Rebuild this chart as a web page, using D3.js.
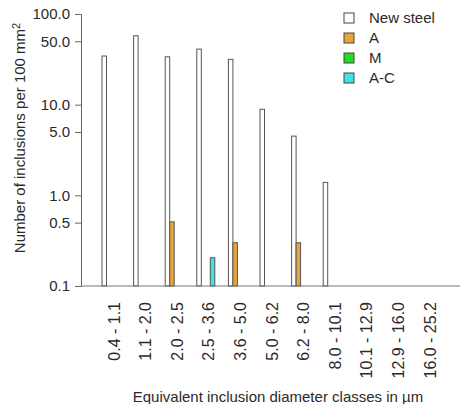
<!DOCTYPE html>
<html>
<head>
<meta charset="utf-8">
<script src="https://cdn.jsdelivr.net/npm/d3@7"></script>
<style>
  body { margin: 0; background: #fff; }
  text { font-family: "Liberation Sans", Arial, sans-serif; fill: #2a2a2a; }
</style>
</head>
<body>
<svg id="chart" width="460" height="404"></svg>
<script>
const categories = ["0.4 - 1.1", "1.1 - 2.0", "2.0 - 2.5", "2.5 - 3.6", "3.6 - 5.0", "5.0 - 6.2",
                    "6.2 - 8.0", "8.0 - 10.1", "10.1 - 12.9", "12.9 - 16.0", "16.0 - 25.2"];
const seriesNames = ["New steel", "A", "M", "A-C"];
const newSteel = [34.4, 57.5, 33.7, 41.0, 31.6, 8.9, 4.5, 1.39, 0, 0, 0];
const seriesA  = [0, 0, 0.51, 0, 0.30, 0, 0.30, 0, 0, 0, 0];
const seriesM  = [0, 0, 0, 0, 0, 0, 0, 0, 0, 0, 0];
const seriesAC = [0, 0, 0, 0.205, 0, 0, 0, 0, 0, 0, 0];
const yTicks = [0.1, 0.5, 1, 5, 10, 50, 100];
const colors = ["#ffffff", "#e8a33a", "#22dd22", "#3fe3e3"];

const seriesValues = [newSteel, seriesA, seriesM, seriesAC];
const svg = d3.select("#chart");

const y = d3.scaleLog().domain([0.1, 100]).range([286, 14]);
const xGroup = d3.scaleBand().domain(categories).range([102, 102 + 11 * 31.6]).paddingInner(0).paddingOuter(0);
const xInner = d3.scaleBand().domain(seriesNames).range([0, 18]).padding(0);

// bars
categories.forEach((c, i) => {
  seriesNames.forEach((s, j) => {
    const v = seriesValues[j][i];
    const vv = Math.max(v, 0.1);
    svg.append("rect")
      .attr("x", xGroup(c) + xInner(s))
      .attr("y", y(vv))
      .attr("width", xInner.bandwidth())
      .attr("height", y(0.1) - y(vv))
      .attr("fill", colors[j])
      .attr("stroke", "#555")
      .attr("stroke-width", 1);
  });
});

// baseline
svg.append("line").attr("x1", 81).attr("x2", 460).attr("y1", y(0.1)).attr("y2", y(0.1))
  .attr("stroke", "#777").attr("stroke-width", 1);

// y axis
const yAxis = d3.axisLeft(y).tickValues(yTicks).tickFormat(d3.format(".1f")).tickSize(6).tickPadding(5);
const ga = svg.append("g").attr("transform", "translate(81,0)").call(yAxis);
ga.select(".domain").attr("stroke", "#666");
ga.selectAll(".tick line").attr("stroke", "#666");
ga.selectAll(".tick text").attr("font-size", 15).attr("fill", "#2a2a2a")
  .style("font-family", "Liberation Sans, Arial, sans-serif");

// x labels
categories.forEach(c => {
  svg.append("text")
    .attr("transform", `translate(${xGroup(c) + 12},302) rotate(-90)`)
    .attr("text-anchor", "end")
    .attr("dy", "0.35em")
    .attr("font-size", 16)
    .text(c);
});

// y title
const yt = svg.append("text")
  .attr("transform", "translate(25,138) rotate(-90)")
  .attr("text-anchor", "middle")
  .attr("font-size", 15);
yt.append("tspan").text("Number of inclusions per 100 mm");
yt.append("tspan").attr("dy", "-0.5em").attr("font-size", 11).text("2");

// x title
svg.append("text").attr("x", 278).attr("y", 402).attr("text-anchor", "middle")
  .attr("font-size", 15).text("Equivalent inclusion diameter classes in \u00b5m");

// legend
seriesNames.forEach((s, j) => {
  const gy = 18 + j * 20;
  svg.append("rect").attr("x", 344).attr("y", gy - 5).attr("width", 10).attr("height", 10)
    .attr("fill", colors[j]).attr("stroke", "#444").attr("stroke-width", 1);
  svg.append("text").attr("x", 369).attr("y", gy).attr("dy", "0.35em")
    .attr("font-size", 15).text(s);
});
</script>
</body>
</html>
